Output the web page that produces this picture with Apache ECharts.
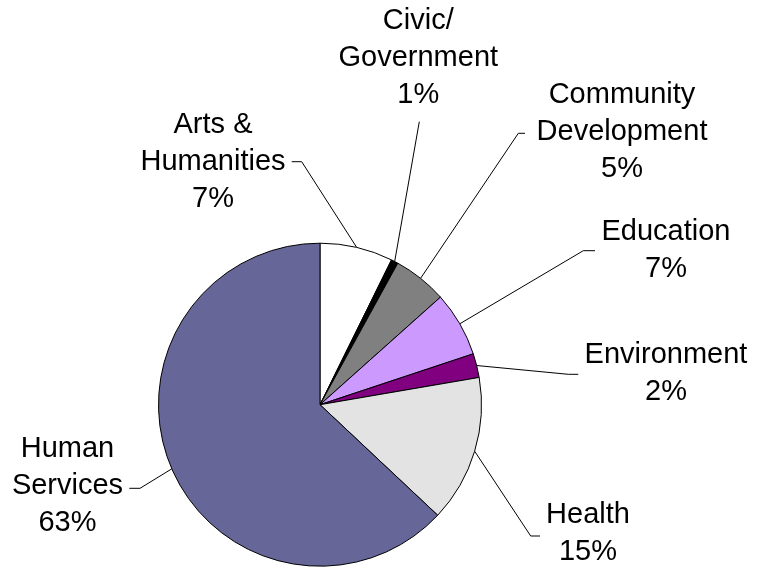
<!DOCTYPE html>
<html>
<head>
<meta charset="utf-8">
<script src="https://cdn.jsdelivr.net/npm/echarts@6/dist/echarts.min.js"></script>
<style>
html,body{margin:0;padding:0;background:#fff;}
#chart{width:766px;height:569px;}
</style>
</head>
<body>
<div id="chart"></div>
<script>
// ---- data ----
const categories = ['Arts &\nHumanities', 'Civic/\nGovernment', 'Community\nDevelopment', 'Education', 'Environment', 'Health', 'Human\nServices'];
const values = [7.3, 0.7, 5.4, 6.5, 2.4, 14.7, 63.0];

// ---- styles / layout (not data) ----
const sliceColors = ['#FFFFFF', '#000000', '#808080', '#CC99FF', '#800080', '#E3E3E3', '#666699'];
// label block centre and leader-line bend/end points, per slice
const labelPlacement = [
  { x: 213,   y: 161.7, line: [[301.7, 161.7], [291.7, 161.7]] },
  { x: 418.3, y: 58.3,  line: [[419.3, 121.7], [419.3, 121.7]] },
  { x: 622,   y: 131.7, line: [[518.3, 133.3], [525, 133.3]] },
  { x: 666,   y: 250.3, line: [[583.3, 250.7], [595, 250.7]] },
  { x: 666,   y: 373.3, line: [[568.3, 374.3], [578.3, 374.3]] },
  { x: 588,   y: 533.8, line: [[530.7, 536], [540, 536]] },
  { x: 67.5,  y: 486,   line: [[140, 488.3], [129.3, 488.3]] }
];

const chart = echarts.init(document.getElementById('chart'), null, { renderer: 'canvas' });

function edgePoint(idx, params) {
  if (params.labelLinePoints && params.labelLinePoints[0]) {
    return params.labelLinePoints[0];
  }
  const lay = chart.getModel().getSeriesByIndex(0).getData().getItemLayout(idx);
  const mid = (lay.startAngle + lay.endAngle) / 2;
  return [lay.cx + lay.r * Math.cos(mid), lay.cy + lay.r * Math.sin(mid)];
}

chart.setOption({
  backgroundColor: '#ffffff',
  animation: false,
  series: [{
    type: 'pie',
    center: [320, 404.7],
    radius: 161.5,
    startAngle: 90,
    clockwise: true,
    avoidLabelOverlap: false,
    percentPrecision: 0,
    data: categories.map((c, i) => ({
      name: c,
      value: values[i],
      itemStyle: { color: sliceColors[i] }
    })),
    itemStyle: { borderColor: '#000', borderWidth: 1 },
    emphasis: { disabled: true },
    label: {
      show: true,
      position: 'outside',
      formatter: '{b}\n{d}%',
      fontFamily: '"Liberation Sans", Arial, sans-serif',
      fontSize: 29,
      lineHeight: 37,
      color: '#000',
      align: 'center'
    },
    labelLine: {
      show: true,
      smooth: false,
      lineStyle: { color: '#000', width: 1 }
    },
    labelLayout: function (params) {
      const idx = params.dataIndex;
      const p = labelPlacement[idx];
      const e = edgePoint(idx, params);
      return {
        x: p.x,
        y: p.y,
        align: 'center',
        verticalAlign: 'middle',
        labelLinePoints: [e, p.line[0], p.line[1]]
      };
    }
  }]
});
</script>
</body>
</html>
